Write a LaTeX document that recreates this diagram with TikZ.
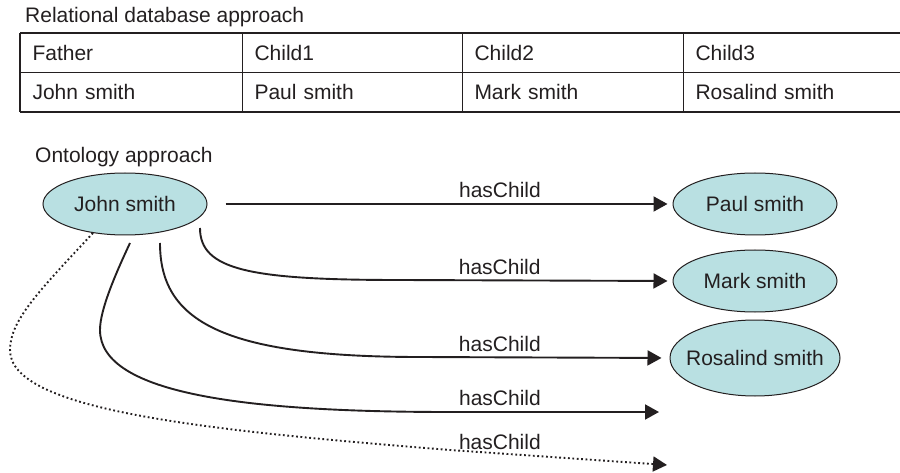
\documentclass[tikz,border=0pt]{standalone}
\usepackage{fontspec}
\setmainfont{Liberation Sans}
\usetikzlibrary{arrows.meta, positioning, shapes.geometric, calc}
\definecolor{ontofill}{RGB}{185,224,226}
\definecolor{inkgray}{RGB}{35,31,32}

\begin{document}
\begin{tikzpicture}[
    x=1pt, y=-1pt,
    font=\fontsize{21}{25}\selectfont, color=inkgray,
    cell/.style={draw, line width=1pt, minimum height=39pt, inner sep=0pt,
        anchor=north west, align=left},
    thing/.style={ellipse, draw, line width=1pt, fill=ontofill,
        minimum width=164pt, minimum height=62pt, inner sep=0pt},
    rel/.style={-{Triangle[length=14pt, width=15pt]}, line width=1.9pt},
    maybe/.style={rel, dash pattern=on 1.8pt off 2.6pt},
    lbl/.style={inner sep=0pt, above=5pt},
]
    \useasboundingbox (0,0) rectangle (900,473);

    % Relational table
    \node[anchor=base west, inner sep=0pt] (reltitle) at (25,23) {Relational database approach};
    \foreach \i/\x/\w/\head/\val in {
        1/20/222/Father/John smith, 2/242/220/Child1/Paul smith,
        3/462/221/Child2/Mark smith, 4/683/222/Child3/Rosalind smith}
    {
        \node[cell, minimum width=\w pt, text width=\w pt-24pt] (h\i) at (\x,33) {\head};
        \node[cell, minimum width=\w pt, text width=\w pt-24pt] (v\i) at (\x,72) {\val};
    }
    \draw[line width=2.2pt] (h1.north west) -- (h4.north east);
    \draw[line width=2.2pt] (v1.south west) -- (v4.south east);
    \draw[line width=1.8pt] (h1.north west) -- (v1.south west);

    % Ontology
    \node[anchor=base west, inner sep=0pt] (ontotitle) at (35,163) {Ontology approach};
    \node[thing] (john) at (125,204) {John smith};
    \node[thing] (paul) at (755,204) {Paul smith};
    \node[thing] (mark) at (755,281) {Mark smith};
    \node[thing, inner xsep=-9pt, minimum width=170pt, minimum height=76pt] (rosa) at (755,358) {Rosalind smith};

    \coordinate (c4) at (659,412);
    \coordinate (c5) at (667,465);

    % hasChild links
    \draw[rel, shorten <=18pt, shorten >=5pt] (john.east) -- (paul.west)
        node[lbl, pos=0.629] {hasChild};
    \draw[rel, shorten >=5pt] ($(john.center)+(75,24)$)
        .. controls +(0,42) and (250,280) .. (400,280)
        -- (mark.west) node[lbl, pos=0.366] {hasChild};
    \draw[rel, shorten >=8pt] ($(john.center)+(35,39)$)
        .. controls +(0,77) and (220,357) .. (420,357)
        -- (rosa.west) node[lbl, pos=0.32] {hasChild};
    \draw[rel] ($(john.center)+(5,39)$)
        .. controls (115,275) and (100,310) .. (100,330)
        .. controls (100,395) and (250,412) .. (450,412)
        -- (c4) node[lbl, pos=0.239] {hasChild};
    \draw[maybe] ($(john.center)+(-32,29)$)
        .. controls (40,290) and (10,320) .. (10,350)
        .. controls (10,410) and (200,430) .. (450,450)
        -- (c5) node[lbl, above=3pt, pos=0.23] {hasChild};
\end{tikzpicture}
\end{document}
